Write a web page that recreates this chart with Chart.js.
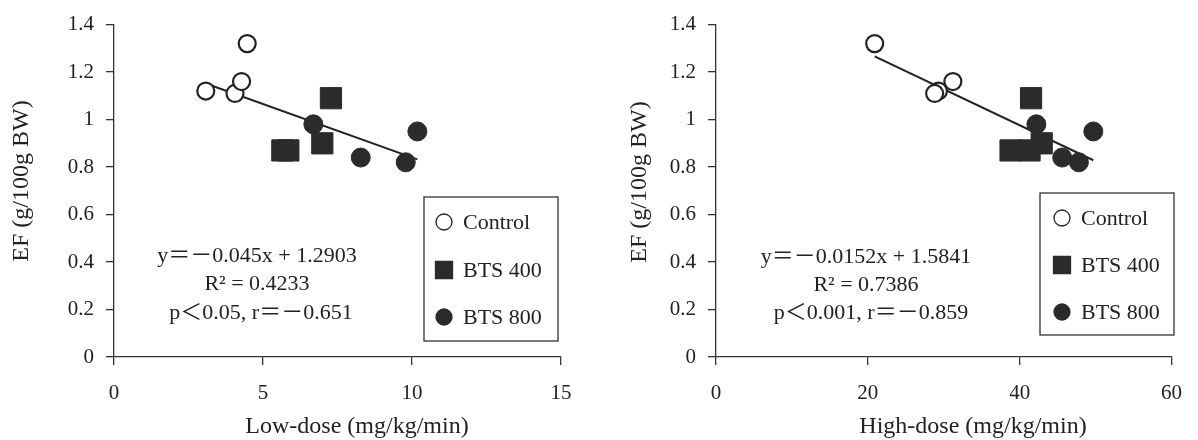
<!DOCTYPE html>
<html>
<head>
<meta charset="utf-8">
<script src="https://cdn.jsdelivr.net/npm/chart.js@4"></script>
<style>
  body { margin: 0; background: #fff; }
  #wrap { position: relative; width: 1198px; height: 440px; }
  canvas { position: absolute; top: 0; }
</style>
</head>
<body>
<div id="wrap">
  <canvas id="graficoBaixa" width="599" height="440" style="left:0"></canvas>
  <canvas id="graficoAlta" width="599" height="440" style="left:599px"></canvas>
</div>
<script>
// Valores de EF por grupo (iguais nos dois gráficos)
var controlY = [1.12, 1.11, 1.16, 1.32];
var bts400Y = [0.87, 0.87, 0.90, 1.09];
var bts800Y = [0.98, 0.84, 0.82, 0.95];

// Dose baixa (mg/kg/min)
var controlLowX = [3.08, 4.06, 4.28, 4.47];
var bts400LowX = [5.65, 5.85, 6.99, 7.28];
var bts800LowX = [6.69, 8.28, 9.79, 10.18];

// Dose alta (mg/kg/min)
var controlHighX = [29.3, 28.8, 31.2, 20.9];
var bts400HighX = [38.8, 41.3, 42.9, 41.5];
var bts800HighX = [42.2, 45.6, 47.8, 49.7];

var groupLabels = ['Control', 'BTS 400', 'BTS 800'];
var yTickLabels = ['0', '0.2', '0.4', '0.6', '0.8', '1', '1.2', '1.4'];
var xTicksLow = ['0', '5', '10', '15'];
var xTicksHigh = ['0', '20', '40', '60'];

// Retas de regressão
var fitLow = { slope: -0.045, intercept: 1.2903 };
var fitHigh = { slope: -0.0152, intercept: 1.5841 };

var eqLow = ['y＝－0.045x + 1.2903', 'R² = 0.4233', 'p＜0.05, r＝－0.651'];
var eqHigh = ['y＝－0.0152x + 1.5841', 'R² = 0.7386', 'p＜0.001, r＝－0.859'];

var SERIF = '"Liberation Serif", "Times New Roman", "Noto Sans CJK SC", serif';
var INK = '#222';

function pontos(xs, ys) {
    return xs.map(function(x, i) { return { x: x, y: ys[i] }; });
}

function reta(fit, xs) {
    var minX = Math.min.apply(null, xs);
    var maxX = Math.max.apply(null, xs);
    return [
        { x: minX, y: fit.slope * minX + fit.intercept },
        { x: maxX, y: fit.slope * maxX + fit.intercept }
    ];
}

// Textos, legenda e títulos desenhados sobre o gráfico
var textoPlugin = {
    id: 'textoPlugin',
    afterDraw: function(chart, args, o) {
        var ctx = chart.ctx;
        var H = Chart.helpers;
        ctx.save();
        ctx.fillStyle = INK;
        ctx.textAlign = 'center';
        ctx.textBaseline = 'middle';

        ctx.font = '22px ' + SERIF;
        o.lines.forEach(function(t, i) { ctx.fillText(t, o.eqX[i], o.eqY[i]); });

        ctx.font = '24px ' + SERIF;
        ctx.fillText(o.xTitle, o.xTitleX, o.xTitleY);

        ctx.save();
        ctx.translate(o.yTitleX, o.yTitleY);
        ctx.rotate(-Math.PI / 2);
        ctx.fillText(o.yTitle, 0, 0);
        ctx.restore();

        // legenda
        var b = o.legendBox;
        ctx.strokeStyle = '#333';
        ctx.lineWidth = 1.3;
        ctx.strokeRect(b.x, b.y, b.w, b.h);
        ctx.textAlign = 'left';
        ctx.font = '22px ' + SERIF;
        chart.data.datasets.forEach(function(ds, i) {
            if (ds.type === 'line') return;
            var yy = o.legendRows[i];
            ctx.fillStyle = ds.backgroundColor;
            ctx.strokeStyle = ds.borderColor;
            H.drawPoint(ctx, {
                pointStyle: ds.pointStyle,
                radius: ds.pointStyle === 'rect' ? 12 : 8,
                borderWidth: ds.borderWidth,
                rotation: 0
            }, o.legendMarkX, yy);
            ctx.fillStyle = INK;
            ctx.fillText(ds.label, o.legendTextX, yy + 1);
        });
        ctx.restore();
    }
};

function criarGrafico(id, xs, xMax, xStep, xTicks, fit, lados, textos) {
    var todosX = xs[0].concat(xs[1], xs[2]);
    var config = {
        type: 'scatter',
        data: {
            datasets: [{
                label: groupLabels[0],
                data: pontos(xs[0], controlY),
                pointStyle: 'circle',
                pointRadius: 8.5,
                pointHoverRadius: 8.5,
                borderWidth: 2.2,
                borderColor: INK,
                backgroundColor: '#fff'
            }, {
                label: groupLabels[1],
                data: pontos(xs[1], bts400Y),
                pointStyle: 'rect',
                pointRadius: 15,
                pointHoverRadius: 15,
                borderWidth: 1,
                borderColor: '#2b2b2b',
                backgroundColor: '#2b2b2b'
            }, {
                label: groupLabels[2],
                data: pontos(xs[2], bts800Y),
                pointStyle: 'circle',
                pointRadius: 9.5,
                pointHoverRadius: 9.5,
                borderWidth: 1,
                borderColor: '#2b2b2b',
                backgroundColor: '#2b2b2b'
            }, {
                type: 'line',
                label: 'fit',
                data: reta(fit, todosX),
                borderColor: INK,
                borderWidth: 2,
                pointRadius: 0,
                fill: false
            }]
        },
        options: {
            responsive: false,
            animation: false,
            layout: { padding: { left: 0, top: 20, right: lados.right, bottom: 0 } },
            plugins: {
                legend: { display: false },
                tooltip: { enabled: false },
                textoPlugin: textos
            },
            scales: {
                x: {
                    type: 'linear',
                    min: 0,
                    max: xMax,
                    ticks: {
                        stepSize: xStep,
                        color: INK,
                        padding: 16,
                        font: { family: SERIF, size: 21 },
                        callback: function(v, i) { return xTicks[i]; }
                    },
                    grid: { display: true, drawOnChartArea: false, drawTicks: true, tickLength: 8, color: '#333', lineWidth: 1.3 },
                    border: { display: true, color: '#333', width: 1.3 },
                    afterFit: function(s) { s.height = 83; }
                },
                y: {
                    min: 0,
                    max: 1.4,
                    ticks: {
                        stepSize: 0.2,
                        color: INK,
                        padding: 12,
                        font: { family: SERIF, size: 21 },
                        callback: function(v, i) { return yTickLabels[i]; }
                    },
                    grid: { display: true, drawOnChartArea: false, drawTicks: true, tickLength: 8, color: '#333', lineWidth: 1.3 },
                    border: { display: true, color: '#333', width: 1.3 },
                    afterFit: function(s) { s.width = lados.left; }
                }
            }
        },
        plugins: [textoPlugin]
    };
    var ctx = document.getElementById(id).getContext('2d');
    return new Chart(ctx, config);
}

criarGrafico('graficoBaixa', [controlLowX, bts400LowX, bts800LowX], 15, 5, xTicksLow, fitLow,
    { left: 114, right: 38 },
    {
        lines: eqLow, eqX: [257, 257, 261], eqY: [256, 284, 313],
        xTitle: 'Low-dose (mg/kg/min)', xTitleX: 357, xTitleY: 427,
        yTitle: 'EF (g/100g BW)', yTitleX: 22, yTitleY: 181,
        legendBox: { x: 424, y: 197, w: 134, h: 144 },
        legendRows: [222, 270, 317], legendMarkX: 444, legendTextX: 463
    });

criarGrafico('graficoAlta', [controlHighX, bts400HighX, bts800HighX], 60, 20, xTicksHigh, fitHigh,
    { left: 117, right: 19 },
    {
        lines: eqHigh, eqX: [267, 267, 272], eqY: [257, 285, 313],
        xTitle: 'High-dose (mg/kg/min)', xTitleX: 374, xTitleY: 427,
        yTitle: 'EF (g/100g BW)', yTitleX: 41, yTitleY: 182,
        legendBox: { x: 441, y: 193, w: 134, h: 142 },
        legendRows: [218, 265, 312], legendMarkX: 463, legendTextX: 482
    });
</script>
</body>
</html>
